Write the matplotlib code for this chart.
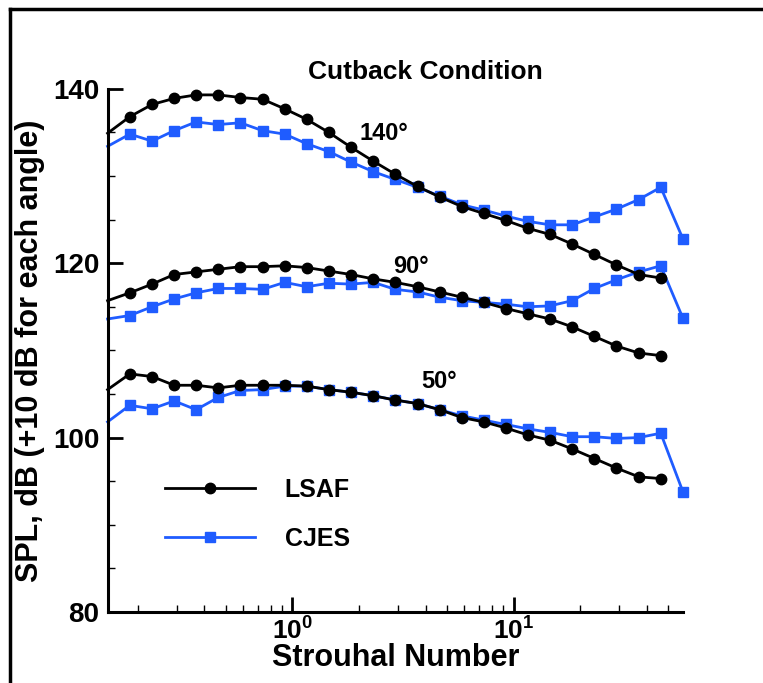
import matplotlib
matplotlib.use("Agg")
import matplotlib.pyplot as plt
from matplotlib.lines import Line2D
from matplotlib.ticker import MultipleLocator, LogLocator, NullFormatter

plt.rcParams['font.family'] = 'Liberation Sans'
plt.rcParams['font.weight'] = 'bold'
plt.rcParams['mathtext.fontset'] = 'custom'
plt.rcParams['mathtext.bf'] = 'Liberation Sans:bold'
plt.rcParams['mathtext.rm'] = 'Liberation Sans:bold'

# Strouhal numbers (1/3-octave bands); first value is where the curves enter the axis
strouhal = [0.146, 0.184, 0.232, 0.292, 0.367, 0.462, 0.582, 0.733, 0.923, 1.16,
            1.46, 1.84, 2.32, 2.92, 3.68, 4.63, 5.83, 7.33, 9.23, 11.6,
            14.6, 18.4, 23.2, 29.2, 36.8, 46.3]
strouhal_cjes = strouhal + [58.3]

lsaf_140 = [134.9, 136.8, 138.2, 138.9, 139.3, 139.3, 139.0, 138.8, 137.7, 136.5,
            135.0, 133.3, 131.7, 130.2, 128.8, 127.6, 126.5, 125.7, 124.9, 124.0,
            123.3, 122.2, 121.0, 119.8, 118.7, 118.3]
cjes_140 = [133.4, 134.8, 134.0, 135.2, 136.2, 135.9, 136.1, 135.2, 134.8, 133.7,
            132.8, 131.6, 130.5, 129.6, 128.7, 127.7, 126.7, 126.1, 125.4, 124.8,
            124.4, 124.4, 125.3, 126.2, 127.3, 128.7, 122.8]

lsaf_90 = [115.7, 116.6, 117.6, 118.7, 119.0, 119.3, 119.6, 119.6, 119.7, 119.5,
           119.1, 118.7, 118.2, 117.8, 117.3, 116.7, 116.1, 115.5, 114.8, 114.2,
           113.6, 112.7, 111.6, 110.5, 109.7, 109.4]
cjes_90 = [113.6, 114.0, 115.0, 115.9, 116.6, 117.1, 117.1, 117.0, 117.8, 117.3,
           117.7, 117.6, 117.8, 117.0, 116.7, 116.1, 115.7, 115.5, 115.3, 115.0,
           115.1, 115.7, 117.1, 118.1, 119.0, 119.7, 113.7]

lsaf_50 = [105.5, 107.3, 107.0, 106.0, 106.0, 105.7, 106.0, 106.0, 106.0, 105.9,
           105.5, 105.2, 104.8, 104.3, 103.9, 103.2, 102.3, 101.8, 101.1, 100.3,
           99.7, 98.7, 97.6, 96.5, 95.5, 95.3]
cjes_50 = [101.8, 103.7, 103.3, 104.2, 103.2, 104.6, 105.4, 105.5, 105.9, 105.9,
           105.5, 105.2, 104.8, 104.3, 103.9, 103.2, 102.5, 102.0, 101.5, 101.0,
           100.6, 100.1, 100.1, 99.9, 100.0, 100.5, 93.8]

angle_labels = ['140°', '90°', '50°']
angle_label_pos = [(2.6, 134.9), (3.45, 119.6), (4.6, 106.4)]

blue = '#1f5cff'

fig = plt.figure(figsize=(7.63, 6.83), dpi=100)
ax = fig.add_axes([0.141, 0.104, 0.754, 0.766])

for i, (lsaf, cjes) in enumerate([(lsaf_140, cjes_140), (lsaf_90, cjes_90), (lsaf_50, cjes_50)]):
    ax.plot(strouhal, lsaf, color='black', lw=2, marker='o', ms=7.5,
            markevery=slice(1, None), clip_on=False, zorder=3,
            label='LSAF' if i == 0 else None)
    ax.plot(strouhal_cjes, cjes, color=blue, lw=2, marker='s', ms=6.5,
            markevery=slice(1, None), clip_on=False, zorder=2,
            label='CJES' if i == 0 else None)

for txt, (x, y) in zip(angle_labels, angle_label_pos):
    ax.text(x, y, txt, fontsize=17, fontweight='bold', ha='center', va='center')

ax.set_xscale('log')
ax.set_xlim(0.146, 58.3)
ax.set_ylim(80, 140)

ax.set_xticks([1, 10])
ax.set_xticklabels([r'$\mathbf{10^0}$', r'$\mathbf{10^1}$'])
ax.xaxis.set_minor_locator(LogLocator(base=10, subs=range(2, 10)))
ax.xaxis.set_minor_formatter(NullFormatter())
ax.set_yticks([80, 100, 120, 140])
ax.yaxis.set_minor_locator(MultipleLocator(5))

ax.tick_params(which='major', direction='in', length=11, width=2, labelsize=20, pad=6)
ax.tick_params(axis='x', which='major', labelsize=19, pad=4)
ax.tick_params(which='minor', direction='in', length=5, width=1)

for side in ['top', 'right']:
    ax.spines[side].set_visible(False)
for side in ['left', 'bottom']:
    ax.spines[side].set_linewidth(2.2)

ax.set_xlabel('Strouhal Number', fontsize=22, fontweight='bold', labelpad=-1)
ax.set_ylabel('SPL, dB (+10 dB for each angle)', fontsize=22, fontweight='bold', labelpad=6)
ax.text(0.552, 1.032, 'Cutback Condition', transform=ax.transAxes, fontsize=19,
        fontweight='bold', ha='center', va='center')

ax.legend(loc='upper left', bbox_to_anchor=(0.06, 0.3), frameon=False, fontsize=18,
          handlelength=3.6, handletextpad=1.2, labelspacing=1.0)

# frame around the figure (left and top edges are visible in the reference)
fig.add_artist(Line2D([0.013, 0.013], [0, 0.987], transform=fig.transFigure, color='black', lw=2.5))
fig.add_artist(Line2D([0.013, 1.0], [0.987, 0.987], transform=fig.transFigure, color='black', lw=2.5))

fig.savefig('out.png', dpi=100)
